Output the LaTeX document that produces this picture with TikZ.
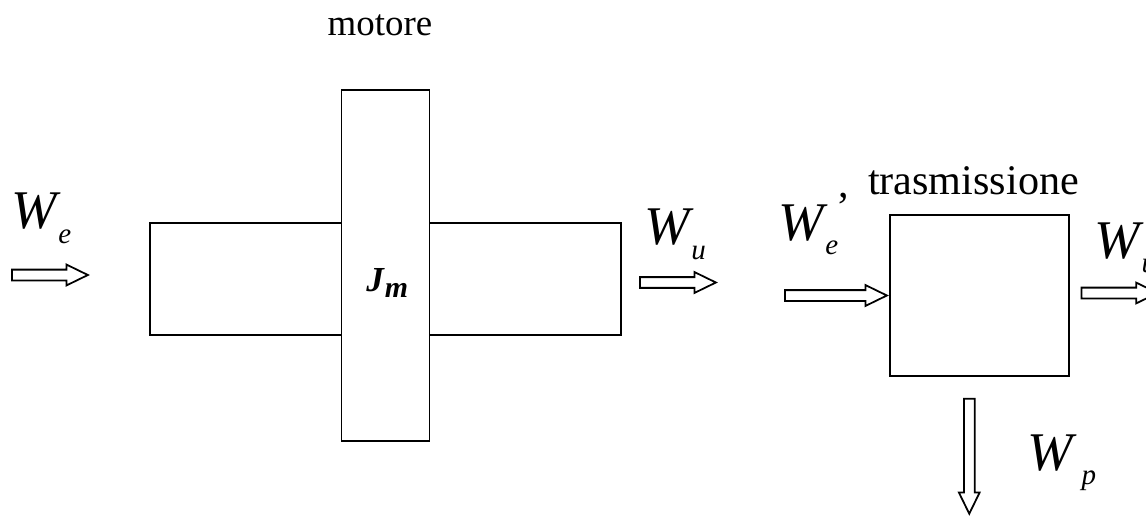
\documentclass[tikz,border=0pt]{standalone}
\usepackage{fontspec}
\setmainfont{Liberation Serif}
\usetikzlibrary{shapes.arrows,positioning,calc}
\tikzset{
    block/.style={rectangle, draw, line width=1pt, inner sep=0pt},
    flow/.style={single arrow, draw, line width=1pt, inner xsep=0pt, inner ysep=0.09cm,
        single arrow head extend=0.1cm, single arrow tip angle=52, anchor=tail},
    power/.style={font=\fontsize{31}{36}\selectfont\itshape, inner sep=0pt, anchor=base west},
    caption/.style={font=\fontsize{24}{28}\selectfont, inner sep=0pt, anchor=base}
}
\newcommand{\pw}[2][1pt]{W\kern#1\raisebox{-8pt}{\fontsize{16.5}{19}\selectfont #2}}

\begin{document}
\begin{tikzpicture}
  \useasboundingbox (0,0) rectangle (22.92,-10.34);

  \node[block, minimum width=9.42cm, minimum height=2.24cm] (stator) at (7.71,-5.58) {};
  \node[block, fill=white, minimum width=1.76cm, minimum height=7.02cm, yshift=0.27cm] (rotor) at (stator.center) {};
  \node[anchor=base west, inner sep=0pt, font=\fontsize{20}{24}\selectfont\bfseries\itshape] (Jm) at (7.32,-5.84) {J\kern0.5pt\raisebox{-3pt}{\fontsize{17}{20}\selectfont m}};
  \node[caption, font=\fontsize{21}{25}\selectfont] (motore) at (7.60,-0.72) {motore};

  \node[block, minimum width=3.58cm, minimum height=3.22cm, right=5.34cm of stator, yshift=-0.33cm] (trasm) {};
  \node[caption] (trasmLab) at (19.47,-3.90) {trasmissione};

  \node[flow, minimum height=1.52cm] (We) at (0.22,-5.50) {};
  \node[flow, minimum height=1.52cm] (Wu) at (12.78,-5.65) {};
  \node[flow, minimum height=2.04cm, anchor=tip] (We2) at (trasm.west) {};
  \node[flow, minimum height=1.52cm] (Wu2) at ($(trasm.east)+(0.22,0.05)$) {};
  \node[flow, minimum height=2.30cm, rotate=-90] (Wp) at ($(trasm.south)+(-0.2,-0.42)$) {};

  \node[power] (WeLab) at (0.22,-4.58) {\pw{e}};
  \node[power] (WuLab) at (12.88,-4.90) {\pw{u}};
  \node[power] (We2Lab) at (15.56,-4.80) {\pw{e}\raisebox{24pt}{\fontsize{24}{28}\selectfont\upshape ,}};
  \node[power] (Wu2Lab) at (21.88,-5.16) {\pw{u}};
  \node[power] (WpLab) at (20.54,-9.40) {\pw[5pt]{p}};
\end{tikzpicture}
\end{document}
